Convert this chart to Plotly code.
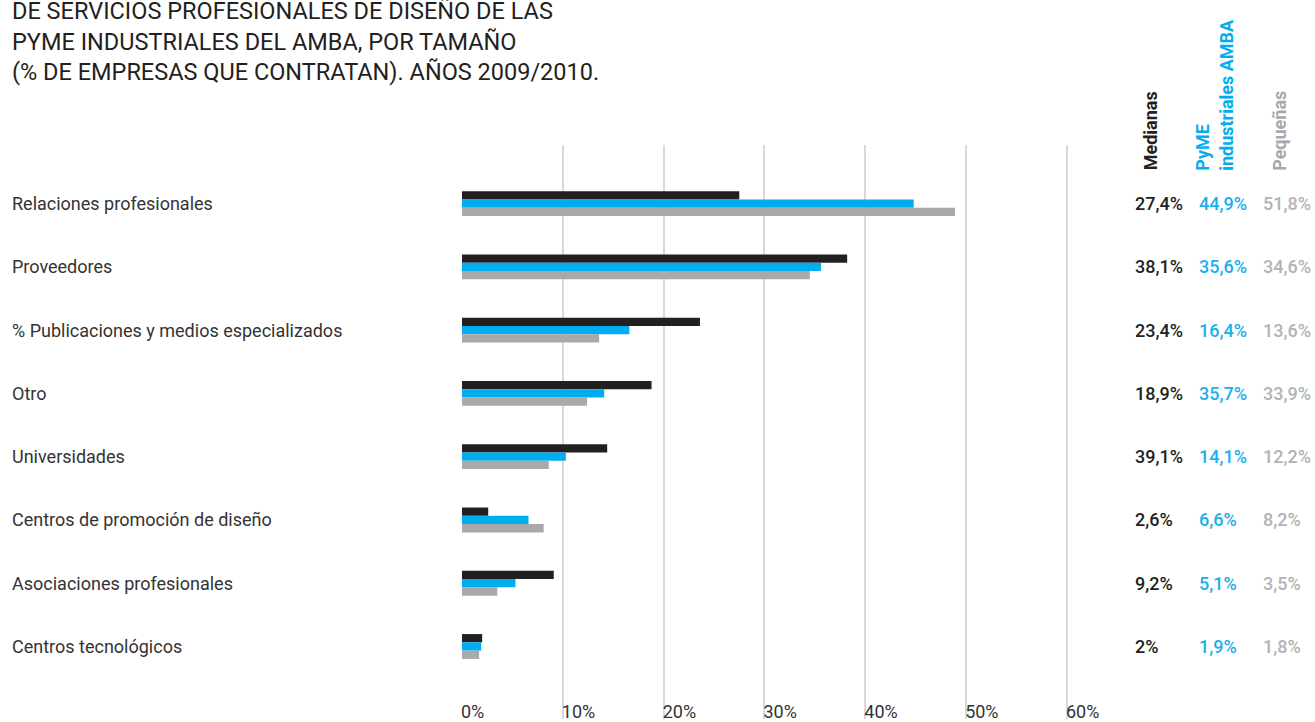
import plotly.graph_objects as go

categories = [
    "Relaciones profesionales",
    "Proveedores",
    "% Publicaciones y medios especializados",
    "Otro",
    "Universidades",
    "Centros de promoción de diseño",
    "Asociaciones profesionales",
    "Centros tecnológicos",
]

# bar lengths as drawn in the picture
medianas = [27.5, 38.2, 23.6, 18.8, 14.4, 2.6, 9.1, 2.0]
pyme = [44.8, 35.6, 16.6, 14.1, 10.3, 6.6, 5.3, 1.9]
pequenas = [48.9, 34.5, 13.6, 12.4, 8.6, 8.1, 3.5, 1.7]

# value labels as printed at the right
lab_medianas = ["27,4%", "38,1%", "23,4%", "18,9%", "39,1%", "2,6%", "9,2%", "2%"]
lab_pyme = ["44,9%", "35,6%", "16,4%", "35,7%", "14,1%", "6,6%", "5,1%", "1,9%"]
lab_pequenas = ["51,8%", "34,6%", "13,6%", "33,9%", "12,2%", "8,2%", "3,5%", "1,8%"]

x_ticks = [0, 10, 20, 30, 40, 50, 60]
x_tick_labels = ["0%", "10%", "20%", "30%", "40%", "50%", "60%"]

title_lines = [
    "DE SERVICIOS PROFESIONALES DE DISEÑO DE LAS",
    "PYME INDUSTRIALES DEL AMBA, POR TAMAÑO",
    "(% DE EMPRESAS QUE CONTRATAN). AÑOS 2009/2010.",
]

BLACK = "#231f20"
BLUE = "#00aeef"
GRAY = "#a7a9ac"
FONT = "Roboto"

W, H = 1315, 722
L, R, T, B = 462, 243, 145, 0
pw = W - L - R
ph = H - T - B


def px_x(px):
    return (px - L) / pw


def px_y(py):
    return (H - B - py) / ph


fig = go.Figure()
for name, vals, col in [("Medianas", medianas, BLACK),
                        ("PyME industriales AMBA", pyme, BLUE),
                        ("Pequeñas", pequenas, GRAY)]:
    fig.add_trace(go.Bar(
        y=categories, x=vals, orientation="h", name=name,
        marker=dict(color=col, line=dict(width=0)),
        hoverinfo="x+name",
    ))

ann = []
# category labels (left aligned)
for i, c in enumerate(categories):
    ann.append(dict(text=c, xref="paper", yref="y", x=px_x(10), y=i,
                    xanchor="left", yanchor="middle", showarrow=False,
                    font=dict(family=FONT, size=18, color="#333333")))
# value columns
for labs, col, xp in [(lab_medianas, BLACK, 1133), (lab_pyme, "#1ab0ec", 1197),
                      (lab_pequenas, "#b1b3b6", 1261)]:
    for i, t in enumerate(labs):
        ann.append(dict(text=t, xref="paper", yref="y", x=px_x(xp), y=i,
                        xanchor="left", yanchor="middle", showarrow=False,
                        font=dict(family=FONT, size=18, color=col, weight=500)))
# column headers (rotated)
for t, col, xc in [("Medianas", BLACK, 1150),
                   ("PyME<br>industriales AMBA", BLUE, 1214),
                   ("Pequeñas", GRAY, 1280)]:
    ann.append(dict(text=t, xref="paper", yref="paper", x=px_x(xc), y=px_y(173),
                    xanchor="center", yanchor="bottom", textangle=-90, align="left",
                    showarrow=False,
                    font=dict(family=FONT, size=18, color=col, weight="bold")))
# title
ann.append(dict(text="<br>".join(title_lines), xref="paper", yref="paper",
                x=px_x(10), y=px_y(-6), xanchor="left", yanchor="top", align="left",
                showarrow=False, font=dict(family=FONT, size=23.5, color=BLACK)))

fig.update_layout(
    width=W, height=H,
    margin=dict(l=L, r=R, t=T, b=B, pad=0),
    paper_bgcolor="white", plot_bgcolor="white",
    barmode="group", bargap=0.607, bargroupgap=0,
    showlegend=False,
    annotations=ann,
    xaxis=dict(range=[0, 60.5], tickvals=x_ticks, ticktext=x_tick_labels,
               showgrid=True, gridcolor="#d9d9d9", gridwidth=2,
               zeroline=False, showline=False, ticks="",
               ticklabelposition="inside right", ticklabeloverflow="allow",
               ticklabelstandoff=-9, ticklabelshift=-1,
               tickfont=dict(family=FONT, size=18, color="#333333"),
               fixedrange=True),
    yaxis=dict(range=[8.146, -0.926], showticklabels=False, showgrid=False,
               zeroline=False, showline=False, ticks="", fixedrange=True),
)

fig.write_html("out.html", config={"displayModeBar": False},
               post_script="document.body.style.margin='0';document.body.style.overflow='hidden';")
